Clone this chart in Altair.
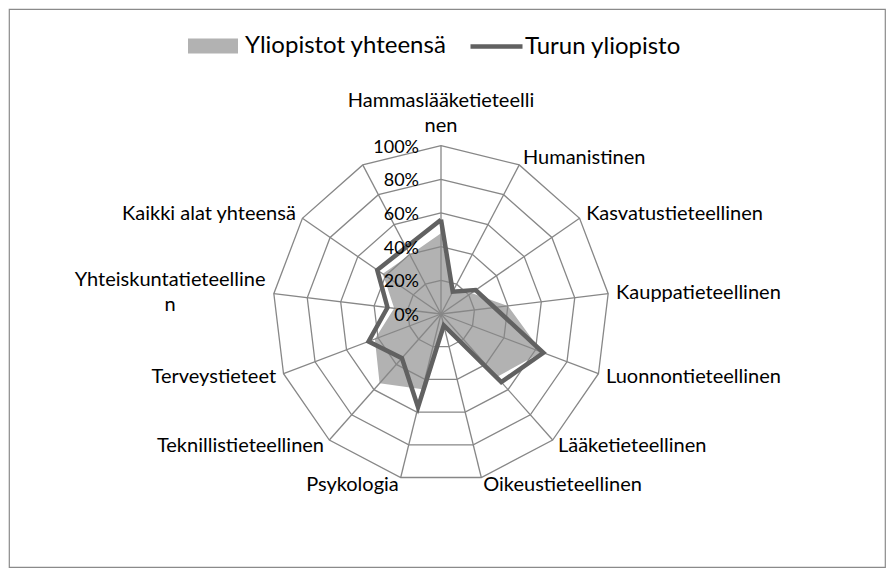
import math
import altair as alt
import pandas as pd

# ---------------- data ----------------
categories = [
    "Hammaslääketieteellinen", "Humanistinen", "Kasvatustieteellinen",
    "Kauppatieteellinen", "Luonnontieteellinen", "Lääketieteellinen",
    "Oikeustieteellinen", "Psykologia", "Teknillistieteellinen",
    "Terveystieteet", "Yhteiskuntatieteellinen", "Kaikki alat yhteensä", "",
]
category_labels = [
    "Hammaslääketieteelli\nnen", "Humanistinen", "Kasvatustieteellinen",
    "Kauppatieteellinen", "Luonnontieteellinen", "Lääketieteellinen",
    "Oikeustieteellinen", "Psykologia", "Teknillistieteellinen",
    "Terveystieteet", "Yhteiskuntatieteelline\nn", "Kaikki alat yhteensä", "",
]
series_names = ["Yliopistot yhteensä", "Turun yliopisto"]
yliopistot_yhteensa = [0.48, 0.14, 0.22, 0.40, 0.64, 0.50, 0.06, 0.46, 0.55, 0.42, 0.28, 0.42, None]
turun_yliopisto = [0.56, 0.15, 0.25, 0.32, 0.65, 0.54, 0.07, 0.57, 0.35, 0.46, 0.32, 0.46, None]
ticks = [0.0, 0.2, 0.4, 0.6, 0.8, 1.0]
tick_labels = ["0%", "20%", "40%", "60%", "80%", "100%"]

# ---------------- layout / style ----------------
W, H = 876, 558
PAD = 1
CX, CY = 432, 305          # centre of the radar inside the plot area (px)
RPX = 168.4                 # pixel length of 100 %
FONT = "Lato"
CAT_SIZE = 20
TICK_SIZE = 18
LEG_SIZE = 24
LINE_H = 25
GAP = 8
CHAR_W = 8.7

GRID_COLOR = "#878787"
FILL_COLOR = "#b2b2b2"
LINE_COLOR = "#616161"

N = len(categories)
xdom = [-CX / RPX, (W - CX) / RPX]
ydom = [-(H - CY) / RPX, CY / RPX]
X = alt.X("x:Q", scale=alt.Scale(domain=xdom, nice=False, zero=False), axis=None)
Y = alt.Y("y:Q", scale=alt.Scale(domain=ydom, nice=False, zero=False), axis=None)


def ang(i):
    return 2 * math.pi * i / N


# series polygons (empty category is skipped, neighbours are joined)
def poly(name, values):
    rows = []
    k = 0
    first = None
    for i, v in enumerate(values):
        if v is None:
            continue
        p = dict(series=name, order=k, x=v * math.sin(ang(i)), y=v * math.cos(ang(i)))
        rows.append(p)
        if first is None:
            first = p
        k += 1
    rows.append(dict(first, order=k))
    return pd.DataFrame(rows)


area_df = poly(series_names[0], yliopistot_yhteensa)
line_df = poly(series_names[1], turun_yliopisto)

# grid
ring_rows = []
for t in ticks[1:]:
    for k in range(N + 1):
        i = k % N
        ring_rows.append(dict(ring=t, order=k, x=t * math.sin(ang(i)), y=t * math.cos(ang(i))))
ring_df = pd.DataFrame(ring_rows)
spoke_df = pd.DataFrame([dict(x=0.0, y=0.0, x2=math.sin(ang(i)), y2=math.cos(ang(i))) for i in range(N)])
tick_df = pd.DataFrame(dict(x=[0.0] * len(ticks), y=ticks, label=tick_labels))

# category labels (anchor = centre of first line)
lab_rows = []
for i, lab in enumerate(category_labels):
    if not lab:
        continue
    s, c = math.sin(ang(i)), math.cos(ang(i))
    lines = lab.split("\n")
    extra = (len(lines) - 1) * LINE_H
    if abs(s) < 0.1:
        ax = 0.0
        ay = c * (1 + (GAP + 2 + CAT_SIZE / 2 + extra) / RPX)
        grp = "center"
    elif len(lines) > 1:
        w = max(len(l) for l in lines) * CHAR_W
        ax = s + math.copysign((GAP + w / 2) / RPX, s)
        ay = c * (1 + GAP / RPX) + (extra / 2) / RPX
        grp = "center"
    else:
        ax, ay = s * (1 + GAP / RPX), c * (1 + GAP / RPX)
        grp = "left" if s > 0 else "right"
    lab_rows.append(dict(x=ax, y=ay, label=lab, grp=grp))
lab_df = pd.DataFrame(lab_rows)

# ---------------- layers ----------------
fill_layer = alt.Chart(area_df).mark_line(strokeWidth=0, strokeOpacity=0).encode(
    x=X, y=Y, order="order:Q",
    fill=alt.Fill(
        "series:N",
        scale=alt.Scale(domain=[series_names[0]], range=[FILL_COLOR]),
        legend=alt.Legend(
            title=None, orient="none", legendX=179, legendY=12, padding=0,
            symbolType="M-1,-0.3H1V0.3H-1Z", symbolSize=2500, symbolStrokeWidth=0,
            symbolFillColor=FILL_COLOR, symbolOpacity=1, labelLimit=0,
            labelFont=FONT, labelFontSize=LEG_SIZE, labelColor="#000000", labelOffset=7,
        ),
    ),
)

rings = alt.Chart(ring_df).mark_line(color=GRID_COLOR, strokeWidth=1.3).encode(
    x=X, y=Y, order="order:Q", detail="ring:N"
)
spokes = alt.Chart(spoke_df).mark_rule(color=GRID_COLOR, strokeWidth=1.3).encode(
    x=X, y=Y, x2="x2:Q", y2="y2:Q"
)

line_layer = alt.Chart(line_df).mark_line(strokeWidth=4.5, strokeJoin="miter").encode(
    x=X, y=Y, order="order:Q",
    stroke=alt.Stroke(
        "series:N",
        scale=alt.Scale(domain=[series_names[1]], range=[LINE_COLOR]),
        legend=alt.Legend(
            title=None, orient="none", legendX=459, legendY=9, padding=0,
            symbolType="stroke", symbolSize=2704, symbolStrokeWidth=4.5, labelLimit=0,
            labelFont=FONT, labelFontSize=LEG_SIZE, labelColor="#000000", labelOffset=0,
        ),
    ),
)

tick_text = alt.Chart(tick_df).mark_text(
    align="right", baseline="middle", dx=-22, dy=2, font=FONT, fontSize=TICK_SIZE, color="#000000"
).encode(x=X, y=Y, text="label:N")


def cat_text(grp, align):
    return alt.Chart(lab_df).transform_filter(alt.datum.grp == grp).mark_text(
        align=align, baseline="middle", font=FONT, fontSize=CAT_SIZE, color="#000000",
        lineBreak="\n", lineHeight=LINE_H,
    ).encode(x=X, y=Y, text="label:N")


chart = alt.layer(
    fill_layer, rings, spokes, line_layer, tick_text,
    cat_text("left", "left"), cat_text("right", "right"), cat_text("center", "center"),
).resolve_scale(fill="independent", stroke="independent").properties(
    width=W, height=H, autosize=alt.AutoSizeParams(type="none"),
    padding={"left": PAD, "top": PAD, "right": PAD, "bottom": PAD},
).configure_view(stroke="#8a8a8a", strokeWidth=1.2)

chart.save("out.html", embed_options={"renderer": "svg", "actions": False})
